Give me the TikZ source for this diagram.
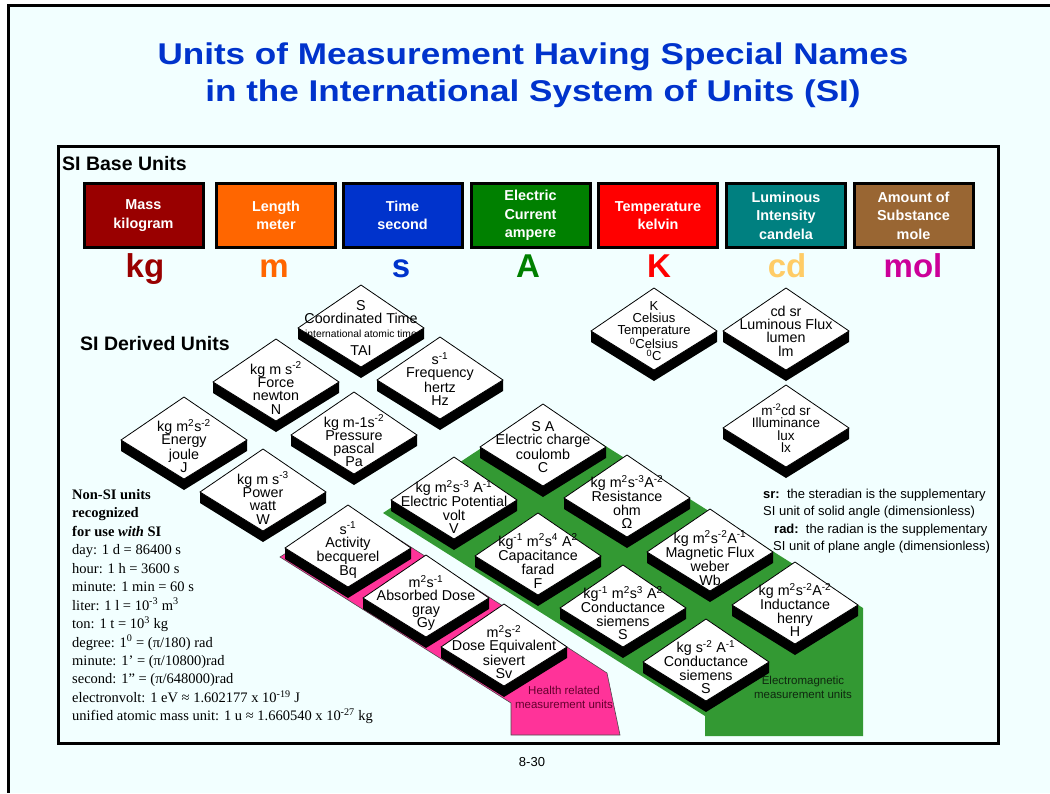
\documentclass[tikz,border=0pt]{standalone}
\usepackage{fontspec}
\setmainfont{Liberation Sans}
\newfontfamily\serifnf{Liberation Serif}
\usepackage{graphicx}

\definecolor{bgc}{RGB}{242,255,255}
\definecolor{titleblue}{RGB}{0,51,204}
\definecolor{cmass}{RGB}{153,0,0}
\definecolor{clen}{RGB}{255,102,0}
\definecolor{ctime}{RGB}{0,51,204}
\definecolor{ccur}{RGB}{0,128,0}
\definecolor{ctemp}{RGB}{255,0,0}
\definecolor{clum}{RGB}{0,128,128}
\definecolor{camt}{RGB}{153,102,51}
\definecolor{ccd}{RGB}{255,204,102}
\definecolor{cmol}{RGB}{204,0,153}
\definecolor{emgreen}{RGB}{51,153,51}
\definecolor{hpink}{RGB}{255,51,153}
\definecolor{hlbl}{RGB}{100,0,45}
\definecolor{emlbl}{RGB}{15,40,15}

\newcommand\sps[1]{\textsuperscript{#1}}

\tikzset{
 basebox/.style={draw=black, line width=3pt, minimum width=119pt, minimum height=64pt,
   align=center, text=white, font=\fontsize{14.4}{18.5}\selectfont\bfseries, inner sep=0pt},
 symb/.style={anchor=base, font=\fontsize{33}{33}\selectfont\bfseries, inner sep=0pt},
 dtext/.style={align=center, font=\fontsize{14.3}{13.3}\selectfont, inner sep=0pt},
 face/.style={fill=white, draw=black, line width=0.8pt},
 nsline/.style={anchor=base west, inner sep=0pt, font=\serifnf\fontsize{14.5}{16}\selectfont},
 note/.style={anchor=base west, inner sep=0pt, font=\fontsize{13}{15}\selectfont},
 heading/.style={anchor=base west, inner sep=0pt, font=\fontsize{19.5}{20}\selectfont\bfseries},
 titlestyle/.style={anchor=base, inner sep=0pt, text=titleblue, font=\fontsize{30}{30}\selectfont\bfseries},
 arealbl/.style={align=center, inner sep=0pt, font=\fontsize{11.5}{14}\selectfont}
}

% name, x, y (level of side corners), text dy, extra style, text
\newcommand\dia[6]{%
 \fill[black] ({#2-63},{#3}) -- ({#2},{#3+39}) -- ({#2+63},{#3}) -- ({#2+63},{#3+11}) -- ({#2},{#3+50}) -- ({#2-63},{#3+11}) -- cycle;
 \draw[face] ({#2},{#3-43}) -- ({#2+63},{#3}) -- ({#2},{#3+39}) -- ({#2-63},{#3}) -- cycle;
 \node[dtext,#5] (#1) at ({#2},{#3+#4}) {#6};
}

\begin{document}
\begin{tikzpicture}[x=1pt,y=-1pt]
\useasboundingbox (0,0) rectangle (1050,793);
\fill[white] (0,0) rectangle (1050,793);
\fill[bgc] (8.5,5.5) rectangle (1050,793);
\draw[line width=3pt] (1050,5.5) -- (8.5,5.5) -- (8.5,793);

% title
\node[titlestyle] (title1) at (533,64) {\scalebox{1.17}[1]{Units of Measurement Having Special Names}};
\node[titlestyle] (title2) at (533,101) {\scalebox{1.17}[1]{in the International System of Units (SI)}};

% inner frame
\draw[line width=3pt, fill=bgc] (58.3,146.7) rectangle (998,743.3);

\node[heading] (baselbl) at (62,170.5) {SI Base Units};

% base units
\node[basebox, fill=cmass] (mass) at (143.5,215.5) {Mass\\kilogram};
\node[basebox, fill=clen]  (length) at (276,215.5) {Length\\meter};
\node[basebox, fill=ctime] (time) at (402.5,215.5) {Time\\second};
\node[basebox, fill=ccur]  (current) at (530.5,215.5) {Electric\\Current\\ampere};
\node[basebox, fill=ctemp] (temp) at (658,215.5) {Temperature\\kelvin};
\node[basebox, fill=clum]  (lum) at (786,215.5) {Luminous\\Intensity\\candela};
\node[basebox, fill=camt]  (amount) at (913.5,215.5) {Amount of\\Substance\\mole};

\node[symb, text=cmass] (kg) at (145,277) {kg};
\node[symb, text=clen]  (m) at (274,277) {m};
\node[symb, text=ctime] (s) at (401,277) {s};
\node[symb, text=ccur]  (A) at (528,277) {A};
\node[symb, text=ctemp] (K) at (659,277) {K};
\node[symb, text=ccd]   (cd) at (787,277) {cd};
\node[symb, text=cmol]  (mol) at (913,277) {mol};

\node[heading] (derlbl) at (80,350) {SI Derived Units};

% coloured areas
\filldraw[fill=hpink, draw=black!70, line width=0.6pt] (280,557) -- (353,510) -- (567,647) -- (607,673) -- (620,735) -- (511,735) -- (511,703) -- cycle;
\fill[emgreen] (383,513) -- (543.5,407) -- (863,608) -- (863,736) -- (705,736) -- (705,716) -- cycle;

\node[arealbl, text=hlbl] (healthlbl) at (564,697) {Health related\\measurement units};
\node[arealbl, text=emlbl] (emlbl) at (803,687) {Electromagnetic\\measurement units};

% derived unit diamonds
\dia{tai}{361}{328}{0}{}{S\\Coordinated Time\\{\fontsize{10.3}{11}\selectfont international atomic time}\\[5pt]TAI}
\dia{force}{276}{382}{6}{}{kg m s\sps{-2}\\Force\\newton\\N}
\dia{freq}{440}{380}{-1}{}{s\sps{-1}\\Frequency\\hertz\\Hz}
\dia{energy}{184}{440}{6}{}{kg m\sps{2}s\sps{-2}\\Energy\\joule\\J}
\dia{pressure}{354}{435}{6}{}{kg m-1s\sps{-2}\\Pressure\\pascal\\Pa}
\dia{power}{263}{492}{6}{}{kg m s\sps{-3}\\Power\\watt\\W}

\dia{celsius}{654}{331}{0}{font=\fontsize{13}{12}\selectfont}{K\\Celsius\\Temperature\\\sps{0}Celsius\\\sps{0}C}
\dia{lumflux}{786}{331}{0}{}{cd sr\\Luminous Flux\\lumen\\lm}
\dia{illum}{786}{428}{0}{font=\fontsize{13.5}{12.3}\selectfont}{m\sps{-2}cd sr\\Illuminance\\lux\\lx}

\dia{charge}{543}{447}{0}{}{S A\\Electric charge\\coulomb\\C}
\dia{potential}{454}{500}{7}{}{kg m\sps{2}s\sps{-3} A\sps{-1}\\Electric Potential\\volt\\V}
\dia{resist}{627}{498}{4}{}{kg m\sps{2}s\sps{-3}A\sps{-2}\\Resistance\\ohm\\Ω}
\dia{capac}{538}{556}{5}{}{kg\sps{-1} m\sps{2}s\sps{4} A\sps{2}\\Capacitance\\farad\\F}
\dia{magflux}{710}{552}{6}{}{kg m\sps{2}s\sps{-2}A\sps{-1}\\Magnetic Flux\\weber\\Wb}
\dia{conda}{623}{608}{5}{}{kg\sps{-1} m\sps{2}s\sps{3} A\sps{2}\\Conductance\\siemens\\S}
\dia{induct}{795}{605}{5}{}{kg m\sps{2}s\sps{-2}A\sps{-2}\\Inductance\\henry\\H}
\dia{condb}{706}{662}{5}{}{kg s\sps{-2} A\sps{-1}\\Conductance\\siemens\\S}

\dia{activity}{348}{548}{2}{}{s\sps{-1}\\Activity\\becquerel\\Bq}
\dia{absorbed}{426}{598}{5}{}{m\sps{2}s\sps{-1}\\Absorbed Dose\\gray\\Gy}
\dia{doseeq}{504}{647}{5}{}{m\sps{2}s\sps{-2}\\Dose Equivalent\\sievert\\Sv}

% non-SI units
\node[nsline] (ns1) at (72,499.5) {\bfseries Non-SI units};
\node[nsline] (ns2) at (72,517.9) {\bfseries recognized};
\node[nsline] (ns3) at (72,536.4) {\bfseries for use \textit{with} SI};
\node[nsline] (ns4) at (72,554.8) {day: 1 d = 86400 s};
\node[nsline] (ns5) at (72,573.2) {hour: 1 h = 3600 s};
\node[nsline] (ns6) at (72,591.7) {minute: 1 min = 60 s};
\node[nsline] (ns7) at (72,610.1) {liter: 1 l = 10\sps{-3} m\sps{3}};
\node[nsline] (ns8) at (72,628.5) {ton: 1 t = 10\sps{3} kg};
\node[nsline] (ns9) at (72,647.0) {degree: 1\sps{0} = (π/180) rad};
\node[nsline] (ns10) at (72,665.4) {minute: 1’ = (π/10800)rad};
\node[nsline] (ns11) at (72,683.8) {second: 1” = (π/648000)rad};
\node[nsline] (ns12) at (72,702.3) {electronvolt: 1 eV ≈ 1.602177 x 10\sps{-19} J};
\node[nsline] (ns13) at (72,720.7) {unified atomic mass unit: 1 u ≈ 1.660540 x 10\sps{-27} kg};

% notes
\node[note] (note1) at (763,498) {\textbf{sr:}\ \ the steradian is the supplementary};
\node[note] (note2) at (763,515) {SI unit of solid angle (dimensionless)};
\node[note] (note3) at (774,533) {\textbf{rad:}\ \ the radian is the supplementary};
\node[note] (note4) at (773,550) {SI unit of plane angle (dimensionless)};

\node[inner sep=0pt, font=\fontsize{13}{15}\selectfont] (page) at (532,762) {8-30};
\end{tikzpicture}
\end{document}
